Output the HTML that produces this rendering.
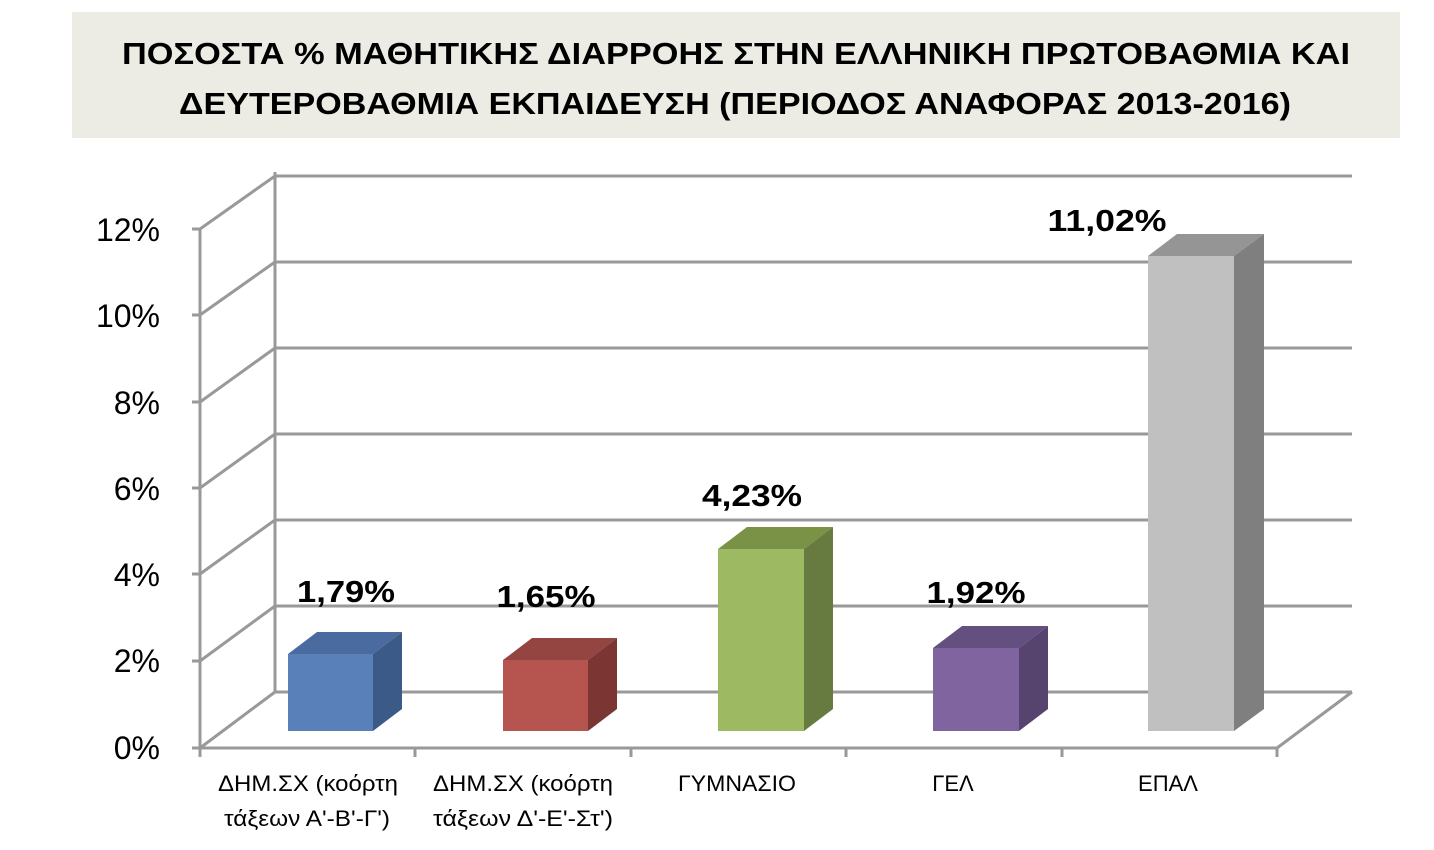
<!DOCTYPE html>
<html><head><meta charset="utf-8"><style>
html,body{margin:0;padding:0;background:#fff;}
svg{display:block;}
</style></head><body>
<svg width="1434" height="850" viewBox="0 0 1434 850" xmlns="http://www.w3.org/2000/svg" font-family="'Liberation Sans', 'DejaVu Sans', sans-serif">
<rect x="72" y="12" width="1328" height="126" fill="#ecece4"/>
<text x="736" y="64" text-anchor="middle" font-size="31" font-weight="bold" textLength="1228" lengthAdjust="spacingAndGlyphs">ΠΟΣΟΣΤΑ % ΜΑΘΗΤΙΚΗΣ ΔΙΑΡΡΟΗΣ ΣΤΗΝ ΕΛΛΗΝΙΚΗ ΠΡΩΤΟΒΑΘΜΙΑ ΚΑΙ</text>
<text x="735" y="114" text-anchor="middle" font-size="31" font-weight="bold" textLength="1112" lengthAdjust="spacingAndGlyphs">ΔΕΥΤΕΡΟΒΑΘΜΙΑ ΕΚΠΑΙΔΕΥΣΗ (ΠΕΡΙΟΔΟΣ ΑΝΑΦΟΡΑΣ 2013-2016)</text>
<g stroke="#999" stroke-width="3" fill="none">
<line x1="275" y1="172" x2="275" y2="692"/>
<line x1="200" y1="228" x2="200" y2="748"/>
<line x1="275" y1="176" x2="1352" y2="176"/><line x1="200" y1="229" x2="275" y2="176"/><line x1="192" y1="229" x2="200" y2="229"/>
<line x1="275" y1="262" x2="1352" y2="262"/><line x1="200" y1="315" x2="275" y2="262"/><line x1="192" y1="315" x2="200" y2="315"/>
<line x1="275" y1="348" x2="1352" y2="348"/><line x1="200" y1="402" x2="275" y2="348"/><line x1="192" y1="402" x2="200" y2="402"/>
<line x1="275" y1="434" x2="1352" y2="434"/><line x1="200" y1="488" x2="275" y2="434"/><line x1="192" y1="488" x2="200" y2="488"/>
<line x1="275" y1="520" x2="1352" y2="520"/><line x1="200" y1="574" x2="275" y2="520"/><line x1="192" y1="574" x2="200" y2="574"/>
<line x1="275" y1="606" x2="1352" y2="606"/><line x1="200" y1="661" x2="275" y2="606"/><line x1="192" y1="661" x2="200" y2="661"/>
<line x1="275" y1="692" x2="1352" y2="692"/><line x1="200" y1="748" x2="275" y2="692"/><line x1="192" y1="748" x2="200" y2="748"/>
<line x1="200" y1="748" x2="1277" y2="748"/><line x1="1277" y1="748" x2="1352" y2="692"/>
<line x1="200" y1="748" x2="200" y2="757"/><line x1="415" y1="748" x2="415" y2="757"/><line x1="631" y1="748" x2="631" y2="757"/><line x1="846" y1="748" x2="846" y2="757"/><line x1="1062" y1="748" x2="1062" y2="757"/><line x1="1277" y1="748" x2="1277" y2="757"/>
</g>
<g font-size="32" text-anchor="end" fill="#000">
<text x="160" y="241">12%</text><text x="160" y="327">10%</text><text x="160" y="414">8%</text><text x="160" y="500">6%</text><text x="160" y="586">4%</text><text x="160" y="672">2%</text><text x="160" y="759">0%</text>
</g>
<g>
<polygon points="288,654 317,632 402,632 373,654" fill="#4a6b9f"/>
<polygon points="373,654 402,632 402,709 373,731" fill="#3c5a87"/>
<rect x="288" y="654" width="85" height="77" fill="#5a80b9"/>

<polygon points="503,660 532,638 617,638 588,660" fill="#944541"/>
<polygon points="588,660 617,638 617,709 588,731" fill="#7b3633"/>
<rect x="503" y="660" width="85" height="71" fill="#b6554f"/>

<polygon points="718,549 747,527 833,527 804,549" fill="#7a9246"/>
<polygon points="804,549 833,527 833,709 804,731" fill="#677b41"/>
<rect x="718" y="549" width="86" height="182" fill="#9dba62"/>

<polygon points="933,648 962,626 1048,626 1019,648" fill="#634f80"/>
<polygon points="1019,648 1048,626 1048,709 1019,731" fill="#57446e"/>
<rect x="933" y="648" width="86" height="83" fill="#7f649f"/>

<polygon points="1148,256 1177,234 1264,234 1234,256" fill="#959595"/>
<polygon points="1234,256 1264,234 1264,709 1234,731" fill="#7f7f7f"/>
<rect x="1148" y="256" width="86" height="475" fill="#c0c0c0"/>
</g>
<g font-size="31" font-weight="bold" text-anchor="middle" fill="#000">
<text x="346" y="602" textLength="98" lengthAdjust="spacingAndGlyphs">1,79%</text>
<text x="546" y="607" textLength="99" lengthAdjust="spacingAndGlyphs">1,65%</text>
<text x="752" y="506" textLength="100" lengthAdjust="spacingAndGlyphs">4,23%</text>
<text x="976" y="603" textLength="99" lengthAdjust="spacingAndGlyphs">1,92%</text>
<text x="1107" y="231" textLength="119" lengthAdjust="spacingAndGlyphs">11,02%</text>
</g>
<g font-size="22" text-anchor="middle" fill="#000">
<text x="308" y="791" textLength="180" lengthAdjust="spacingAndGlyphs">ΔΗΜ.ΣΧ (κοόρτη</text><text x="307" y="826" textLength="166" lengthAdjust="spacingAndGlyphs">τάξεων Α'-Β'-Γ')</text>
<text x="523" y="791" textLength="180" lengthAdjust="spacingAndGlyphs">ΔΗΜ.ΣΧ (κοόρτη</text><text x="523" y="826" textLength="180" lengthAdjust="spacingAndGlyphs">τάξεων Δ'-Ε'-Στ')</text>
<text x="737" y="791" textLength="118" lengthAdjust="spacingAndGlyphs">ΓΥΜΝΑΣΙΟ</text>
<text x="953" y="791">ΓΕΛ</text>
<text x="1168" y="791">ΕΠΑΛ</text>
</g>
</svg>
</body></html>
